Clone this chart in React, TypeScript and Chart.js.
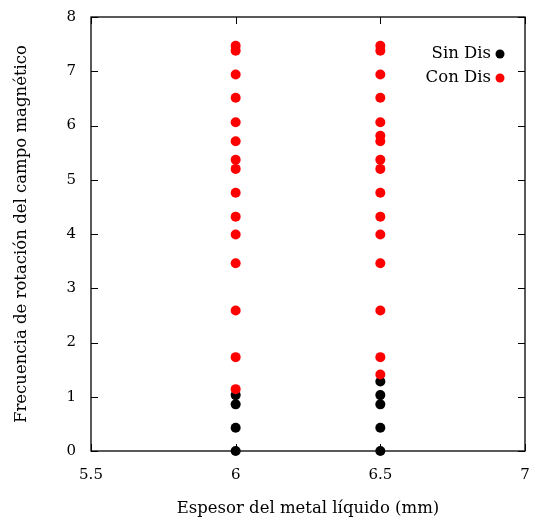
import React, { useEffect, useRef } from "react";
import { Chart, registerables } from "chart.js";

Chart.register(...registerables);

const sinDisX6 = [6, 6, 6, 6];
const sinDisY6 = [0, 0.43, 0.86, 1.03];
const sinDisX65 = [6.5, 6.5, 6.5, 6.5, 6.5];
const sinDisY65 = [0, 0.43, 0.86, 1.03, 1.28];

const conDisY6 = [1.14, 1.73, 2.59, 3.46, 3.99, 4.32, 4.76, 5.2, 5.37, 5.71, 6.06, 6.51, 6.94, 7.38, 7.47];
const conDisY65 = [1.41, 1.73, 2.59, 3.46, 3.99, 4.32, 4.76, 5.2, 5.37, 5.71, 5.81, 6.06, 6.51, 6.94, 7.38, 7.47];

const xTicks = [5.5, 6, 6.5, 7];
const yTicks = [0, 1, 2, 3, 4, 5, 6, 7, 8];

const seriesNames = ["Sin Dis", "Con Dis"];
const seriesColors = ["#000000", "#ff0000"];

const FONT = "'DejaVu Serif', serif";

const innerTicks = {
  id: "innerTicks",
  beforeDatasetsDraw(chart: any) {
    const { ctx, chartArea: a, scales } = chart;
    ctx.save();
    ctx.strokeStyle = "#000";
    ctx.lineWidth = 1;
    const L = 7;
    ctx.beginPath();
    for (const v of xTicks) {
      const px = Math.round(scales.x.getPixelForValue(v)) + 0.5;
      ctx.moveTo(px, a.bottom);
      ctx.lineTo(px, a.bottom - L);
      ctx.moveTo(px, a.top);
      ctx.lineTo(px, a.top + L);
    }
    for (const v of yTicks) {
      const py = Math.round(scales.y.getPixelForValue(v)) + 0.5;
      ctx.moveTo(a.left, py);
      ctx.lineTo(a.left + L, py);
      ctx.moveTo(a.right, py);
      ctx.lineTo(a.right - L, py);
    }
    ctx.stroke();
    ctx.lineWidth = 1.3;
    ctx.strokeRect(a.left, a.top, a.right - a.left, a.bottom - a.top);
    ctx.restore();
  },
  afterDatasetsDraw(chart: any) {
    const { ctx, chartArea: a } = chart;
    ctx.save();
    ctx.font = "16.5px " + FONT;
    ctx.textAlign = "right";
    ctx.textBaseline = "middle";
    seriesNames.forEach((name, i) => {
      const y = a.top + 37 + i * 24;
      ctx.fillStyle = "#000";
      ctx.fillText(name, a.right - 34, y);
      ctx.fillStyle = seriesColors[i];
      ctx.beginPath();
      ctx.arc(a.right - 25, y, 4.5, 0, Math.PI * 2);
      ctx.fill();
    });
    ctx.restore();
  },
};

export default function App() {
  const ref = useRef<HTMLCanvasElement>(null);
  useEffect(() => {
    const sinData = [
      ...sinDisX6.map((x, i) => ({ x, y: sinDisY6[i] })),
      ...sinDisX65.map((x, i) => ({ x, y: sinDisY65[i] })),
    ];
    const conData = [
      ...conDisY6.map((y) => ({ x: 6, y })),
      ...conDisY65.map((y) => ({ x: 6.5, y })),
    ];
    const chart = new Chart(ref.current!, {
      type: "scatter",
      data: {
        datasets: [
          {
            label: seriesNames[0],
            data: sinData,
            backgroundColor: seriesColors[0],
            borderColor: seriesColors[0],
            pointRadius: 5,
            borderWidth: 0,
            order: 2,
            clip: false,
          },
          {
            label: seriesNames[1],
            data: conData,
            backgroundColor: seriesColors[1],
            borderColor: seriesColors[1],
            pointRadius: 5,
            borderWidth: 0,
            order: 1,
            clip: false,
          },
        ],
      },
      options: {
        animation: false,
        responsive: false,
        layout: { padding: { left: 0, top: 17, right: 8, bottom: 0 } },
        plugins: { legend: { display: false }, tooltip: { enabled: false } },
        scales: {
          x: {
            type: "linear",
            min: 5.5,
            max: 7,
            afterBuildTicks: (s: any) => {
              s.ticks = xTicks.map((v) => ({ value: v }));
            },
            afterFit: (s: any) => {
              s.height = 74;
              s.paddingLeft = 0;
              s.paddingRight = 0;
            },
            grid: { display: false, drawTicks: false },
            border: { display: false },
            ticks: {
              color: "#000",
              padding: 15,
              font: { family: FONT, size: 15 },
              callback: (v: any) => String(v),
              maxRotation: 0,
            },
            title: {
              display: true,
              text: "Espesor del metal líquido (mm)",
              color: "#000",
              font: { family: FONT, size: 16.5 },
              padding: { top: 0, bottom: 6 },
            },
          },
          y: {
            type: "linear",
            min: 0,
            max: 8,
            afterBuildTicks: (s: any) => {
              s.ticks = yTicks.map((v) => ({ value: v }));
            },
            afterFit: (s: any) => {
              s.width = 91;
              s.paddingTop = 0;
              s.paddingBottom = 0;
            },
            grid: { display: false, drawTicks: false },
            border: { display: false },
            ticks: {
              color: "#000",
              padding: 15,
              font: { family: FONT, size: 15 },
            },
            title: {
              display: true,
              text: "Frecuencia de rotación del campo magnético",
              color: "#000",
              font: { family: FONT, size: 16.5 },
              padding: { top: 12, bottom: 0 },
            },
          },
        },
      },
      plugins: [innerTicks],
    });
    return () => chart.destroy();
  }, []);
  return (
    <div style={{ position: "absolute", left: 0, top: 0, width: 533, height: 525, background: "#fff" }}>
      <canvas ref={ref} width={533} height={525} />
    </div>
  );
}
